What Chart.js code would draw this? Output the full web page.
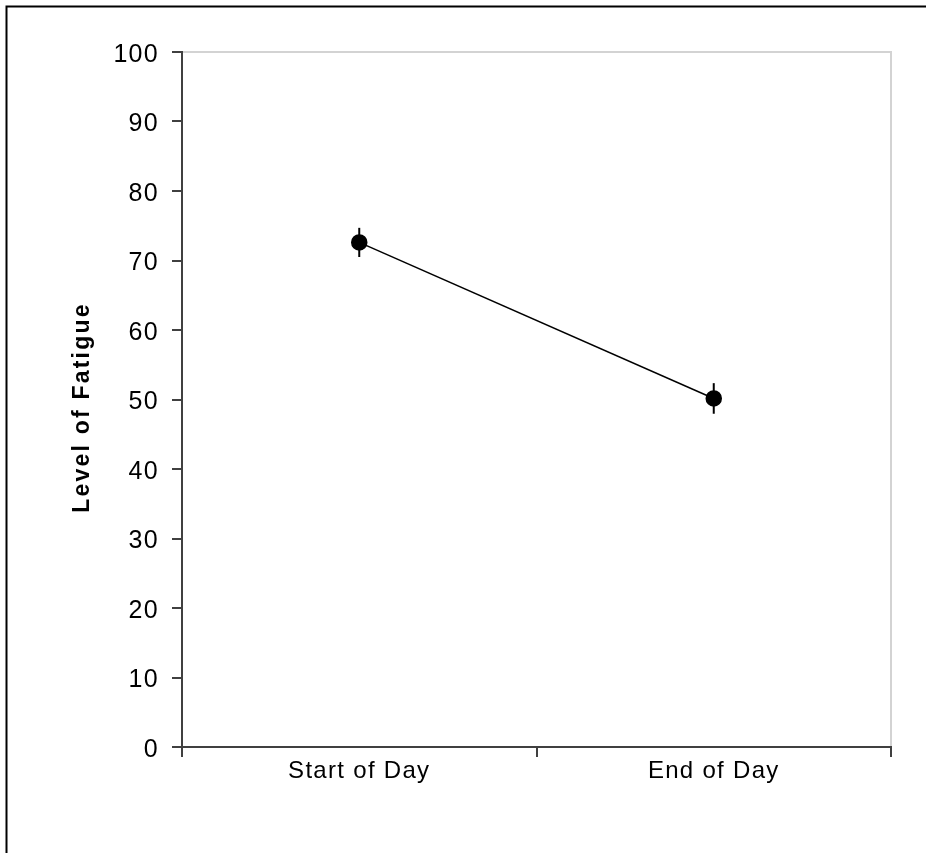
<!DOCTYPE html>
<html>
<head>
<meta charset="utf-8">
<script src="https://cdn.jsdelivr.net/npm/chart.js@4"></script>
<style>
html,body{margin:0;padding:0;background:#fff;}
#wrap{position:relative;width:926px;height:853px;}
canvas{display:block;}
</style>
</head>
<body>
<div id="wrap"><canvas id="c" width="926" height="853"></canvas></div>
<script>
const categories = ["Start of Day", "End of Day"];
const fatigueMeans = [72.6, 50.15];
const fatigueErrors = [2.1, 2.2];
const yTicks = [0, 10, 20, 30, 40, 50, 60, 70, 80, 90, 100];

const decor = {
  id: 'decor',
  beforeUpdate(chart) { chart.ctx.letterSpacing = '1.3px'; },
  beforeDraw(chart) {
    const ctx = chart.ctx;
    ctx.letterSpacing = '1.3px';
    const ys = chart.scales.y;
    if (ys && !ys._patchedTitle) {
      const orig = ys.drawTitle.bind(ys);
      ys.drawTitle = function () {
        ctx.save();
        ctx.letterSpacing = '2.2px';
        ctx.translate(0, 8);
        orig();
        ctx.restore();
      };
      ys._patchedTitle = true;
    }
    ctx.save();
    ctx.strokeStyle = '#000';
    ctx.lineWidth = 2;
    ctx.beginPath();
    ctx.moveTo(6.5, 853);
    ctx.lineTo(6.5, 6.5);
    ctx.lineTo(926, 6.5);
    ctx.stroke();
    ctx.restore();
  },
  afterDraw(chart) {
    const ctx = chart.ctx;
    const a = chart.chartArea;
    ctx.save();
    ctx.strokeStyle = '#d3d3d3';
    ctx.lineWidth = 2;
    ctx.beginPath();
    ctx.moveTo(a.left + 1, a.top);
    ctx.lineTo(a.right, a.top);
    ctx.lineTo(a.right, a.bottom - 1);
    ctx.stroke();
    ctx.restore();
  },
  afterDatasetsDraw(chart) {
    const ctx = chart.ctx;
    const xs = chart.scales.x, ys = chart.scales.y;
    ctx.save();
    ctx.strokeStyle = '#000';
    ctx.lineWidth = 2;
    fatigueMeans.forEach((m, i) => {
      const x = xs.getPixelForValue(i);
      ctx.beginPath();
      ctx.moveTo(x, ys.getPixelForValue(m - fatigueErrors[i]));
      ctx.lineTo(x, ys.getPixelForValue(m + fatigueErrors[i]));
      ctx.stroke();
    });
    ctx.restore();
  }
};

new Chart(document.getElementById('c'), {
  type: 'line',
  data: {
    labels: categories,
    datasets: [{
      data: fatigueMeans,
      borderColor: '#000',
      borderWidth: 1.5,
      backgroundColor: '#000',
      pointBackgroundColor: '#000',
      pointBorderColor: '#000',
      pointRadius: 7.5,
      pointHoverRadius: 7.5,
      tension: 0
    }]
  },
  options: {
    responsive: false,
    animation: false,
    devicePixelRatio: 1,
    layout: { padding: { top: 52, right: 35, left: 0, bottom: 0 } },
    plugins: { legend: { display: false }, tooltip: { enabled: false } },
    scales: {
      x: {
        type: 'category',
        offset: true,
        grid: { offset: true, drawOnChartArea: false, drawTicks: true, tickLength: 10, color: '#404040', lineWidth: 2 },
        border: { color: '#404040', width: 2 },
        ticks: { color: '#000', font: { family: 'Liberation Sans, Arial, sans-serif', size: 24 }, padding: 0 },
        afterFit(s) { s.height = 106; }
      },
      y: {
        min: 0, max: 100,
        afterBuildTicks(s) { s.ticks = yTicks.map(v => ({ value: v })); },
        grid: { drawOnChartArea: false, drawTicks: true, tickLength: 10, color: '#404040', lineWidth: 2 },
        border: { color: '#404040', width: 2 },
        ticks: { color: '#000', font: { family: 'Liberation Sans, Arial, sans-serif', size: 25 }, padding: 13, labelOffset: 3 },
        title: { display: true, text: 'Level of Fatigue', color: '#000', font: { family: 'Liberation Sans, Arial, sans-serif', size: 23, weight: 'bold' }, padding: { top: 69, bottom: 0 } },
        afterFit(s) { s.width = 182; }
      }
    }
  },
  plugins: [decor]
});
</script>
</body>
</html>
